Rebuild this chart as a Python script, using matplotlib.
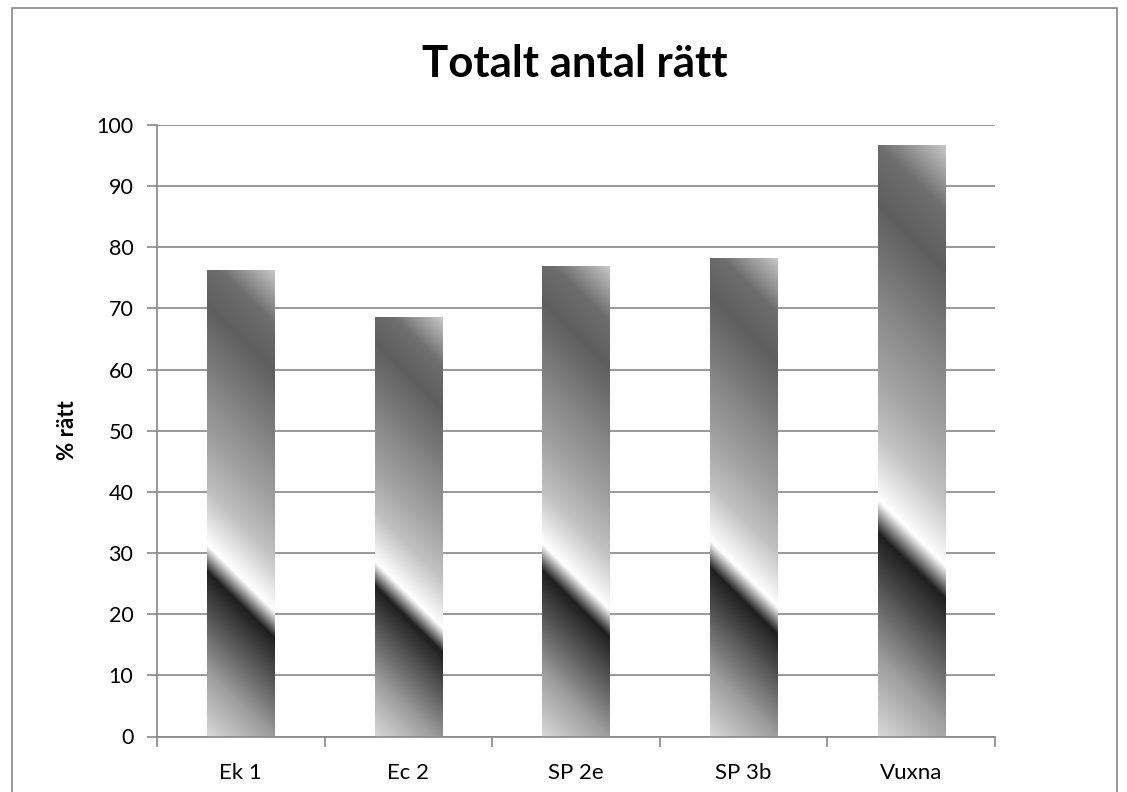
import numpy as np
import matplotlib
matplotlib.use("Agg")
import matplotlib.pyplot as plt
from matplotlib.patches import Rectangle

categories = ["Ek 1", "Ec 2", "SP 2e", "SP 3b", "Vuxna"]
values = [76.35, 68.6, 76.9, 78.2, 96.8]
yticks = [0, 10, 20, 30, 40, 50, 60, 70, 80, 90, 100]

plt.rcParams['font.family'] = ['Lato', 'DejaVu Sans']

W, H = 1127, 792
fig = plt.figure(figsize=(W / 100, H / 100), dpi=100)
ax = fig.add_axes([157 / W, (H - 736.5) / H, 838 / W, 611.5 / H])
ax.set_xlim(-0.5, len(categories) - 0.5)
ax.set_ylim(0, 100)

grid_c = "#878787"
for s in ["top", "right"]:
    ax.spines[s].set_visible(False)
for s in ["left", "bottom"]:
    ax.spines[s].set_color(grid_c)
    ax.spines[s].set_linewidth(1.2)
ax.set_yticks(yticks)
ax.yaxis.grid(True, color=grid_c, linewidth=1.2)
ax.set_axisbelow(True)
ax.tick_params(axis='y', length=7, width=1.2, color=grid_c, labelsize=15.5, pad=10)
ax.set_xticks(range(len(categories)))
ax.set_xticklabels(categories)
ax.set_xticks(np.arange(-0.5, len(categories), 1.0), minor=True)
ax.tick_params(axis='x', which='major', length=0, labelsize=16, pad=19)
ax.tick_params(axis='x', which='minor', length=7, width=1.2, color=grid_c)

bars = ax.bar(range(len(categories)), values, width=0.4, color='none', edgecolor='none', zorder=2)

# gradient stops (t along bottom-left -> top-right diagonal, gray level)
stops_t = [0.0, 0.12, 0.31, 0.36, 0.46, 0.56, 0.65, 0.81, 0.90, 1.0]
stops_v = [0.85, 0.62, 0.12, 1.0, 0.76, 0.63, 0.54, 0.37, 0.43, 0.78]

fig.canvas.draw()
for rect in bars:
    x0, y0 = rect.get_x(), rect.get_y()
    w, h = rect.get_width(), rect.get_height()
    p0 = ax.transData.transform((x0, y0))
    p1 = ax.transData.transform((x0 + w, y0 + h))
    nx = max(int(round(p1[0] - p0[0])), 2)
    ny = max(int(round(p1[1] - p0[1])), 2)
    jj, ii = np.meshgrid(np.arange(nx), np.arange(ny))
    t = (jj + ii) / float(nx + ny - 2)
    g = np.interp(t, stops_t, stops_v)
    img = np.dstack([g, g, g])
    im = ax.imshow(img, origin='lower', extent=[x0, x0 + w, y0, y0 + h],
                   aspect='auto', interpolation='bilinear', zorder=2)
    im.set_clip_path(rect)

ax.set_xlim(-0.5, len(categories) - 0.5)
ax.set_ylim(0, 100)

fig.text(575 / W, (H - 77) / H, "Totalt antal rätt", ha='center', va='baseline',
         fontsize=31.5, fontweight='bold')
fig.text(67.5 / W, (H - 430) / H, "% rätt", ha='center', va='center',
         rotation=90, fontsize=16, fontweight='bold')

fig.add_artist(Rectangle((12 / W, -0.05), (1117 - 12) / W, (H - 8) / H + 0.05,
                         transform=fig.transFigure, fill=False,
                         edgecolor=grid_c, linewidth=1.2))

fig.savefig("out.png", dpi=100)
